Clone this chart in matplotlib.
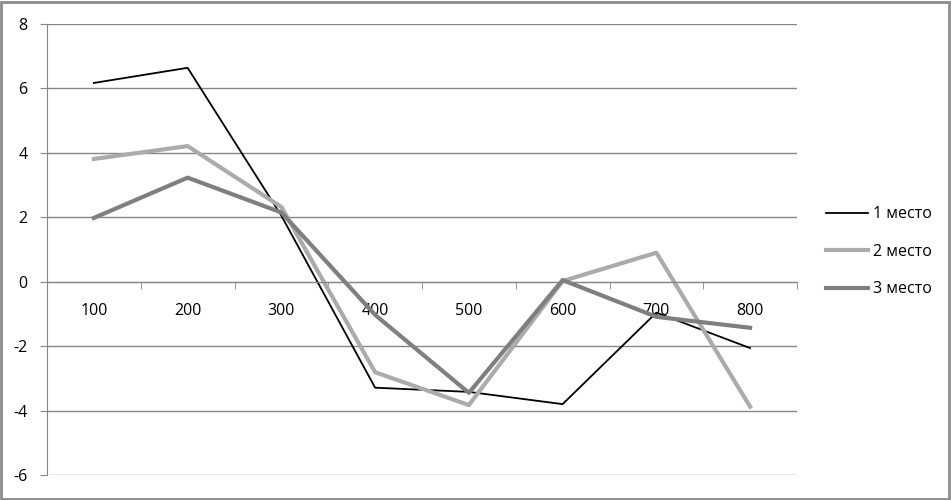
import matplotlib.pyplot as plt
import numpy as np

plt.rcParams['font.family'] = ['Open Sans', 'DejaVu Sans']
plt.rcParams['axes.unicode_minus'] = False

categories = ['100', '200', '300', '400', '500', '600', '700', '800']
place1 = [6.17, 6.64, 2.05, -3.29, -3.42, -3.80, -0.96, -2.06]
place2 = [3.81, 4.21, 2.32, -2.81, -3.83, 0.02, 0.90, -3.88]
place3 = [1.98, 3.23, 2.15, -1.03, -3.45, 0.05, -1.09, -1.43]
names = ['1 место', '2 место', '3 место']

fig = plt.figure(figsize=(9.51, 5.0), dpi=100)
ax = fig.add_axes([47 / 951, 25 / 500, 750 / 951, 451 / 500])

x = np.arange(len(categories))
ax.plot(x, place1, color='black', lw=1.3, label=names[0])
ax.plot(x, place2, color='#ababab', lw=3.0, label=names[1])
ax.plot(x, place3, color='#7f7f7f', lw=3.0, label=names[2])

ax.set_xlim(-0.5, len(categories) - 0.5)
ax.set_ylim(-6, 8)
ax.set_yticks(np.arange(-6, 9, 2))
ax.yaxis.grid(True, color='#868686', lw=1.0)
ax.set_axisbelow(True)

ax.spines['top'].set_visible(False)
ax.spines['right'].set_visible(False)
ax.spines['left'].set_color('#868686')
ax.spines['bottom'].set_color('#868686')
ax.spines['bottom'].set_position(('data', 0))

ax.set_xticks(x)
ax.set_xticklabels(categories)
ax.set_xticks(np.arange(-0.5, len(categories), 1), minor=True)
ax.tick_params(axis='x', which='major', length=0, pad=15, labelsize=11.5)
ax.tick_params(axis='x', which='minor', length=5, color='#868686', direction='out')
ax.tick_params(axis='y', length=5, color='#868686', labelsize=11.5, pad=9)

ax.legend(loc='center left', bbox_to_anchor=(1.02, 0.495), frameon=False,
          fontsize=11.5, handlelength=2.6, labelspacing=1.35, handletextpad=0.3)

fig.patches.append(plt.Rectangle((0.001, 0.002), 0.997, 0.995, transform=fig.transFigure,
                                 fill=False, edgecolor='#8c8c8c', lw=2))

fig.savefig('out.png', dpi=100)
